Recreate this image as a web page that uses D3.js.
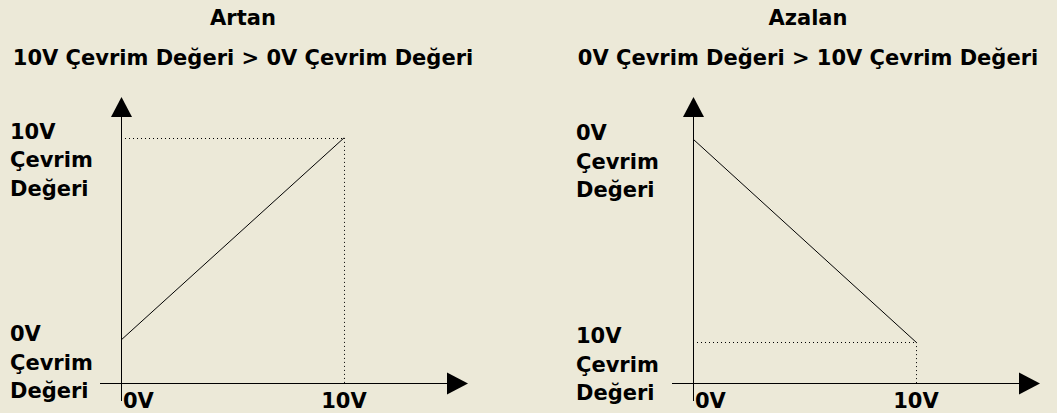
<!DOCTYPE html>
<html>
<head>
<meta charset="utf-8">
<script src="https://cdn.jsdelivr.net/npm/d3@7"></script>
<style>
  body { margin: 0; background: #ece9d8; }
  text { font-family: "DejaVu Sans", Verdana, sans-serif; font-weight: bold; font-size: 21px; fill: #000; }
</style>
</head>
<body>
<div id="chart"></div>
<script>
const panelTitles = ["Artan", "Azalan"];
const panelSubtitles = [
  "10V Çevrim Değeri > 0V Çevrim Değeri",
  "0V Çevrim Değeri > 10V Çevrim Değeri"
];
const inputVolts = [0, 10];
const xTickLabels = ["0V", "10V"];
// conversion value (relative, 0-100) at 0V and at 10V input
const artanValues = [15, 85.7];
const azalanValues = [85.3, 14.3];
const artanYLabels = [["0V", "Çevrim", "Değeri"], ["10V", "Çevrim", "Değeri"]];
const azalanYLabels = [["0V", "Çevrim", "Değeri"], ["10V", "Çevrim", "Değeri"]];

const width = 1057;
const height = 413;

const svg = d3.select("#chart")
  .append("svg")
  .attr("width", width)
  .attr("height", height);

const yScale = d3.scaleLinear().domain([0, 100]).range([383, 97]);

function drawPanel(p) {
  const g = svg.append("g");
  const xScale = d3.scaleLinear().domain([0, 10]).range([p.axisX, p.axisX + 223]);
  const x0 = xScale(0);
  const y0 = yScale(0);

  g.append("text")
    .attr("x", p.titleX).attr("y", 25)
    .attr("text-anchor", "middle")
    .text(p.title);

  g.append("text")
    .attr("x", p.titleX).attr("y", 65)
    .attr("text-anchor", "middle")
    .text(p.subtitle);

  // axes
  g.append("line")
    .attr("x1", x0 + 0.5).attr("x2", x0 + 0.5)
    .attr("y1", 110).attr("y2", 401)
    .attr("stroke", "#000");
  g.append("line")
    .attr("x1", x0 - 21).attr("x2", x0 + 335)
    .attr("y1", y0 + 0.5).attr("y2", y0 + 0.5)
    .attr("stroke", "#000");

  // arrow heads
  g.append("path")
    .attr("d", `M${x0 + 0.5},${yScale(100)} L${x0 - 10},${yScale(100) + 20} L${x0 + 11},${yScale(100) + 20} Z`)
    .attr("fill", "#000");
  const tipX = x0 + 347;
  g.append("path")
    .attr("d", `M${tipX},${y0 + 0.5} L${tipX - 21},${y0 - 10.5} L${tipX - 21},${y0 + 11.5} Z`)
    .attr("fill", "#000");

  const pts = inputVolts.map((v, i) => [xScale(v), yScale(p.values[i])]);

  // guide lines
  const end = pts[1];
  g.append("line")
    .attr("x1", x0 + 4).attr("x2", end[0])
    .attr("y1", Math.round(end[1]) + 0.5).attr("y2", Math.round(end[1]) + 0.5)
    .attr("stroke", "#000")
    .attr("stroke-dasharray", "1,3");
  g.append("line")
    .attr("x1", Math.round(end[0]) + 0.5).attr("x2", Math.round(end[0]) + 0.5)
    .attr("y1", end[1]).attr("y2", y0)
    .attr("stroke", "#000")
    .attr("stroke-dasharray", "1,3");

  g.append("path")
    .datum(pts)
    .attr("d", d3.line())
    .attr("fill", "none")
    .attr("stroke", "#000")
    .attr("stroke-width", 1);

  // y labels, placed at the value they describe
  p.yLabels.forEach((lines, i) => {
    const t = g.append("text")
      .attr("x", p.labelX)
      .attr("y", yScale(p.values[i]) + 1);
    lines.forEach((s, j) => {
      t.append("tspan")
        .attr("x", p.labelX)
        .attr("dy", j === 0 ? 0 : 28.5)
        .text(s);
    });
  });

  // x tick labels
  g.append("text")
    .attr("x", xScale(inputVolts[0]) + 2).attr("y", 408)
    .text(xTickLabels[0]);
  g.append("text")
    .attr("x", xScale(inputVolts[1])).attr("y", 408)
    .attr("text-anchor", "middle")
    .text(xTickLabels[1]);
}

drawPanel({
  title: panelTitles[0], subtitle: panelSubtitles[0],
  values: artanValues, yLabels: artanYLabels,
  axisX: 121, labelX: 10, titleX: 243
});
drawPanel({
  title: panelTitles[1], subtitle: panelSubtitles[1],
  values: azalanValues, yLabels: azalanYLabels,
  axisX: 693, labelX: 576, titleX: 808
});
</script>
</body>
</html>
